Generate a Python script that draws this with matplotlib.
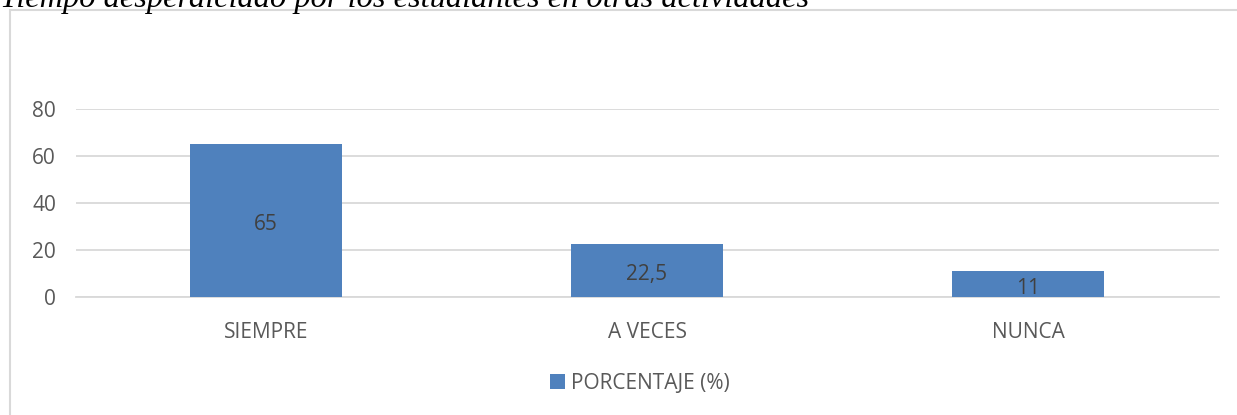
import matplotlib.pyplot as plt
from matplotlib.patches import Rectangle

categories = ['SIEMPRE', 'A VECES', 'NUNCA']
values = [65, 22.5, 11]
value_labels = ['65', '22,5', '11']
series_name = 'PORCENTAJE (%)'
title = 'Tiempo desperdiciado por los estudiantes en otras actividades'

plt.rcParams['font.family'] = ['Open Sans', 'DejaVu Sans']

fig = plt.figure(figsize=(12.37, 4.15), dpi=100)

# chart frame (light grey border)
fig.patches.append(Rectangle((10 / 1237, -0.1), 1.2, (415 - 10.5) / 415 + 0.1,
                             transform=fig.transFigure, fill=False,
                             edgecolor='#d9d9d9', linewidth=1.5))

# title, cut off at the top like the screenshot
fig.text(0.0, 1 - 7 / 415, title, fontsize=23.3, style='italic',
         family='Liberation Serif', color='black', va='baseline', ha='left')

ax = fig.add_axes([75.5 / 1237, 1 - 297 / 415, (1218.5 - 75.5) / 1237, (297 - 109) / 415])
x = range(len(categories))
bars = ax.bar(x, values, width=0.4, color='#4F81BD', label=series_name, zorder=3)
for b, lab in zip(bars, value_labels):
    ax.annotate(lab, (b.get_x() + b.get_width() / 2, b.get_height() / 2),
                xytext=(0, -3), textcoords='offset points',
                ha='center', va='center', fontsize=15, color='#404040', zorder=4)

ax.set_xlim(-0.5, 2.5)
ax.set_ylim(0, 80)
ax.set_yticks([0, 20, 40, 60, 80])
ax.set_xticks(list(x))
ax.set_xticklabels(categories)
ax.yaxis.grid(True, color='#d9d9d9', linewidth=1.3, zorder=0)
ax.tick_params(axis='both', length=0, labelsize=15, labelcolor='#595959')
ax.tick_params(axis='y', pad=14)
ax.tick_params(axis='x', pad=18)
for s in ['top', 'right', 'left']:
    ax.spines[s].set_visible(False)
ax.spines['bottom'].set_color('#d9d9d9')
ax.spines['bottom'].set_linewidth(1.3)

fig.legend(loc='center', bbox_to_anchor=(640 / 1237, 1 - 383 / 415), frameon=False,
           fontsize=15, labelcolor='#595959', handlelength=0.7, handleheight=0.7,
           handletextpad=0.3)

fig.savefig('out.png', dpi=100)
